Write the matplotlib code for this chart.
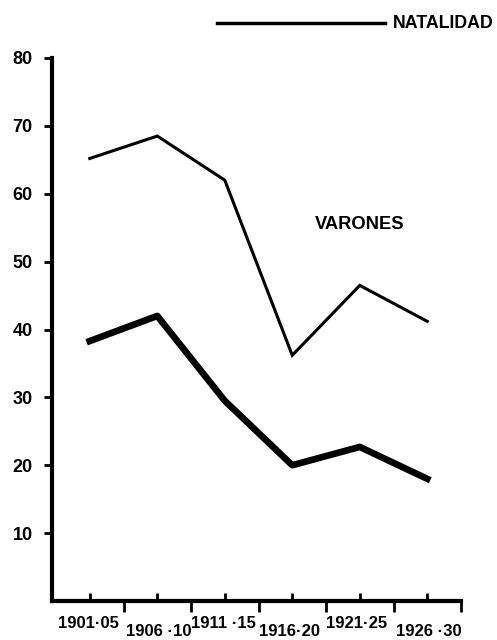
import matplotlib
matplotlib.use("Agg")
import matplotlib.pyplot as plt

periods = ["1901·05", "1906 ·10", "1911 ·15", "1916·20", "1921·25", "1926 ·30"]
natalidad_varones = [65.2, 68.5, 62.0, 36.2, 46.5, 41.2]
mortalidad_varones = [38.3, 42.0, 29.5, 20.0, 22.7, 18.0]
yticks = [10, 20, 30, 40, 50, 60, 70, 80]

plt.rcParams['font.family'] = ['Liberation Sans', 'DejaVu Sans']
plt.rcParams['font.weight'] = 'bold'

fig = plt.figure(figsize=(4.97, 6.4), dpi=100)
ax = fig.add_axes([52/497, 1-601/640, (461-52)/497, (601-58)/640])

x = list(range(len(periods)))
ax.plot(x, natalidad_varones, color='black', lw=2.2, solid_joinstyle='miter')
ax.plot(x, mortalidad_varones, color='black', lw=4.8, solid_joinstyle='round')

ax.set_xlim(-0.56, 5.5)
ax.set_ylim(0, 80)
for s in ['top', 'right']:
    ax.spines[s].set_visible(False)
for s in ['left', 'bottom']:
    ax.spines[s].set_linewidth(3)
    ax.spines[s].set_capstyle('projecting')

ax.set_yticks(yticks)
ax.set_yticklabels([str(v) for v in yticks], fontsize=13, fontweight='bold')
ax.tick_params(axis='y', direction='out', length=6, width=2, pad=8)

ax.set_xticks(x)
ax.set_xticklabels([])
ax.tick_params(axis='x', which='major', direction='in', length=6, width=2)
ax.set_xticks([i + 0.5 for i in x], minor=True)
ax.tick_params(axis='x', which='minor', direction='out', length=8, width=2)

label_cx = [88, 159, 223, 290, 357, 429]
for i, lab in enumerate(periods):
    ypix = 623 if i % 2 == 0 else 632
    fig.text(label_cx[i]/497, 1 - ypix/640, lab, ha='center', va='center',
             fontsize=12, fontweight='bold')

ax.text(4.0, 55.5, "VARONES", ha='center', va='center', fontsize=13.2, fontweight='bold')

# legend
fig.add_artist(plt.Line2D([217/497, 385/497], [1-23/640, 1-23/640], color='black', lw=2.5))
fig.text(393/497, 1-23/640, "NATALIDAD", ha='left', va='center', fontsize=12.8, fontweight='bold')

fig.savefig("out.png", dpi=100)
